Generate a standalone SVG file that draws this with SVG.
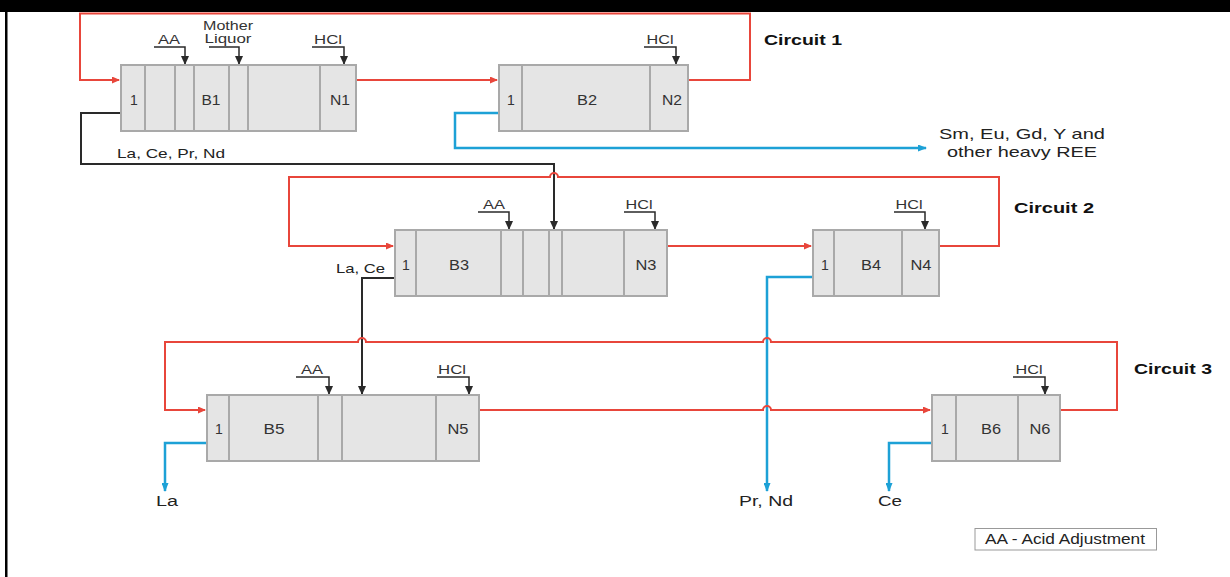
<svg xmlns="http://www.w3.org/2000/svg" width="1230" height="577" viewBox="0 0 1230 577">
<style>
.box{fill:#e5e5e5;stroke:#a9a9a9;stroke-width:2}
.div{stroke:#a9a9a9;stroke-width:2}
.bl{font-family:"Liberation Sans",Arial,sans-serif;font-size:14px;fill:#333;text-anchor:middle}
.lab{font-family:"Liberation Sans",Arial,sans-serif;font-size:12px;fill:#333;text-anchor:middle}
.txt{font-family:"Liberation Sans",Arial,sans-serif;font-size:14px;fill:#222}
.circ{font-family:"Liberation Sans",Arial,sans-serif;font-size:15px;font-weight:bold;fill:#111}
.red{fill:none;stroke:#e8463b;stroke-width:2}
.blue{fill:none;stroke:#1da1d6;stroke-width:2.5}
.blk{fill:none;stroke:#2a2a2a;stroke-width:2}
.feed{fill:none;stroke:#2a2a2a;stroke-width:1.5}
</style>
<defs>
<marker id="ar" markerUnits="userSpaceOnUse" markerWidth="8" markerHeight="7" viewBox="0 0 8 7" refX="7" refY="3.5" orient="auto"><path d="M0,0 L8,3.5 L0,7 z" fill="#e8463b"/></marker>
<marker id="ab" markerUnits="userSpaceOnUse" markerWidth="9" markerHeight="7" viewBox="0 0 9 7" refX="8" refY="3.5" orient="auto"><path d="M0,0 L9,3.5 L0,7 z" fill="#1da1d6"/></marker>
<marker id="ak" markerUnits="userSpaceOnUse" markerWidth="9" markerHeight="8" viewBox="0 0 9 8" refX="8" refY="4" orient="auto"><path d="M0,0 L9,4 L0,8 z" fill="#2a2a2a"/></marker>
</defs>
<rect width="1230" height="577" fill="#fff"/>
<rect x="0" y="0" width="1230" height="12" fill="#000"/>
<rect x="5" y="0" width="2.5" height="577" fill="#000"/>

<g id="connectors">
<!-- circuit 1 -->
<path class="red" d="M688,80 H750 V13.5 H80 V80 H119" marker-end="url(#ar)"/>
<path class="red" d="M356,80 H497" marker-end="url(#ar)"/>
<path class="blue" d="M499,113 H455 V148 H926" marker-end="url(#ab)"/>
<path class="blk" d="M121,113 H81 V164 H554 V229" marker-end="url(#ak)"/>
<!-- circuit 2 -->
<path class="red" d="M939,246 H999 V177 H558 A4,4 0 0 0 550,177 H289 V246 H393" marker-end="url(#ar)"/>
<path class="red" d="M667,246 H811" marker-end="url(#ar)"/>
<path class="blue" d="M813,277 H767 V491" marker-end="url(#ab)"/>
<path class="blk" d="M395,278 H362 V394" marker-end="url(#ak)"/>
<!-- circuit 3 -->
<path class="red" d="M1060,410 H1117 V342 H771 A4,4 0 0 0 763,342 H366 A4,4 0 0 0 358,342 H165 V410 H205" marker-end="url(#ar)"/>
<path class="red" d="M479,410 H763 A4,4 0 0 1 771,410 H930" marker-end="url(#ar)"/>
<path class="blue" d="M207,443 H165 V491" marker-end="url(#ab)"/>
<path class="blue" d="M932,443 H889 V491" marker-end="url(#ab)"/>
<!-- feeds -->
<path class="feed" d="M154,47 H185 V64" marker-end="url(#ak)"/>
<path class="feed" d="M209,47 H239 V64" marker-end="url(#ak)"/>
<path class="feed" d="M312,47 H344 V64" marker-end="url(#ak)"/>
<path class="feed" d="M644,47 H676 V64" marker-end="url(#ak)"/>
<path class="feed" d="M478,212 H509 V229" marker-end="url(#ak)"/>
<path class="feed" d="M624,212 H655 V229" marker-end="url(#ak)"/>
<path class="feed" d="M894,212 H925 V229" marker-end="url(#ak)"/>
<path class="feed" d="M296,377 H329 V394" marker-end="url(#ak)"/>
<path class="feed" d="M437,377 H469 V394" marker-end="url(#ak)"/>
<path class="feed" d="M1013,377 H1045 V394" marker-end="url(#ak)"/>
</g>

<g id="labels">
<text class="lab" x="169" y="44" textLength="22" lengthAdjust="spacingAndGlyphs">AA</text>
<text class="lab" x="228" y="30" textLength="50" lengthAdjust="spacingAndGlyphs">Mother</text>
<text class="lab" x="228" y="43" textLength="47" lengthAdjust="spacingAndGlyphs">Liquor</text>
<text class="lab" x="328" y="44" textLength="28" lengthAdjust="spacingAndGlyphs">HCl</text>
<text class="lab" x="660" y="44" textLength="27" lengthAdjust="spacingAndGlyphs">HCl</text>
<text class="lab" x="494" y="209" textLength="22" lengthAdjust="spacingAndGlyphs">AA</text>
<text class="lab" x="639" y="209" textLength="27" lengthAdjust="spacingAndGlyphs">HCl</text>
<text class="lab" x="909" y="209" textLength="27" lengthAdjust="spacingAndGlyphs">HCl</text>
<text class="lab" x="312" y="374" textLength="22" lengthAdjust="spacingAndGlyphs">AA</text>
<text class="lab" x="452" y="374" textLength="28" lengthAdjust="spacingAndGlyphs">HCl</text>
<text class="lab" x="1029" y="374" textLength="27" lengthAdjust="spacingAndGlyphs">HCl</text>
<text class="circ" x="764" y="45" textLength="78" lengthAdjust="spacingAndGlyphs">Circuit 1</text>
<text class="circ" x="1014" y="213" textLength="80" lengthAdjust="spacingAndGlyphs">Circuit 2</text>
<text class="circ" x="1134" y="374" textLength="78" lengthAdjust="spacingAndGlyphs">Circuit 3</text>
<text class="txt" x="1022" y="139" text-anchor="middle" style="font-size:15px" textLength="166" lengthAdjust="spacingAndGlyphs">Sm, Eu, Gd, Y and</text>
<text class="txt" x="1022" y="157" text-anchor="middle" style="font-size:15px" textLength="150" lengthAdjust="spacingAndGlyphs">other heavy REE</text>
<text class="txt" x="117" y="158" style="font-size:13px" textLength="108" lengthAdjust="spacingAndGlyphs">La, Ce, Pr, Nd</text>
<text class="txt" x="336" y="273" style="font-size:13px" textLength="49" lengthAdjust="spacingAndGlyphs">La, Ce</text>
<text class="txt" x="167" y="506" text-anchor="middle" textLength="22" lengthAdjust="spacingAndGlyphs">La</text>
<text class="txt" x="766" y="506" text-anchor="middle" textLength="54" lengthAdjust="spacingAndGlyphs">Pr, Nd</text>
<text class="txt" x="890" y="506" text-anchor="middle" textLength="24" lengthAdjust="spacingAndGlyphs">Ce</text>
</g>

<g id="B1">
<rect class="box" x="121" y="65" width="235" height="66"/>
<path class="div" d="M145,65V131 M175,65V131 M194,65V131 M229,65V131 M248,65V131 M320,65V131"/>
<text class="bl" x="134" y="105">1</text>
<text class="bl" x="211" y="105" textLength="19" lengthAdjust="spacingAndGlyphs">B1</text>
<text class="bl" x="340" y="105" textLength="20" lengthAdjust="spacingAndGlyphs">N1</text>
</g>
<g id="B2">
<rect class="box" x="499" y="65" width="189" height="66"/>
<path class="div" d="M522,65V131 M650,65V131"/>
<text class="bl" x="511" y="105">1</text>
<text class="bl" x="587" y="105" textLength="20" lengthAdjust="spacingAndGlyphs">B2</text>
<text class="bl" x="672" y="105" textLength="20" lengthAdjust="spacingAndGlyphs">N2</text>
</g>
<g id="B3">
<rect class="box" x="395" y="230" width="272" height="66"/>
<path class="div" d="M416,230V296 M501,230V296 M523,230V296 M549,230V296 M562,230V296 M624,230V296"/>
<text class="bl" x="406" y="270">1</text>
<text class="bl" x="459" y="270" textLength="20" lengthAdjust="spacingAndGlyphs">B3</text>
<text class="bl" x="646" y="270" textLength="21" lengthAdjust="spacingAndGlyphs">N3</text>
</g>
<g id="B4">
<rect class="box" x="813" y="230" width="126" height="66"/>
<path class="div" d="M834,230V296 M902,230V296"/>
<text class="bl" x="825" y="270">1</text>
<text class="bl" x="871" y="270" textLength="20" lengthAdjust="spacingAndGlyphs">B4</text>
<text class="bl" x="921" y="270" textLength="21" lengthAdjust="spacingAndGlyphs">N4</text>
</g>
<g id="B5">
<rect class="box" x="207" y="395" width="272" height="66"/>
<path class="div" d="M229,395V461 M318,395V461 M342,395V461 M436,395V461"/>
<text class="bl" x="219" y="434">1</text>
<text class="bl" x="274" y="434" textLength="21" lengthAdjust="spacingAndGlyphs">B5</text>
<text class="bl" x="458" y="434" textLength="21" lengthAdjust="spacingAndGlyphs">N5</text>
</g>
<g id="B6">
<rect class="box" x="932" y="395" width="128" height="66"/>
<path class="div" d="M956,395V461 M1018,395V461"/>
<text class="bl" x="945" y="434">1</text>
<text class="bl" x="991" y="434" textLength="20" lengthAdjust="spacingAndGlyphs">B6</text>
<text class="bl" x="1040" y="434" textLength="21" lengthAdjust="spacingAndGlyphs">N6</text>
</g>
<g id="legend">
<rect x="975" y="528.5" width="181.5" height="21.5" fill="#fff" stroke="#999" stroke-width="1"/>
<text class="txt" x="985" y="544" textLength="160" lengthAdjust="spacingAndGlyphs">AA - Acid Adjustment</text>
</g>
</svg>
